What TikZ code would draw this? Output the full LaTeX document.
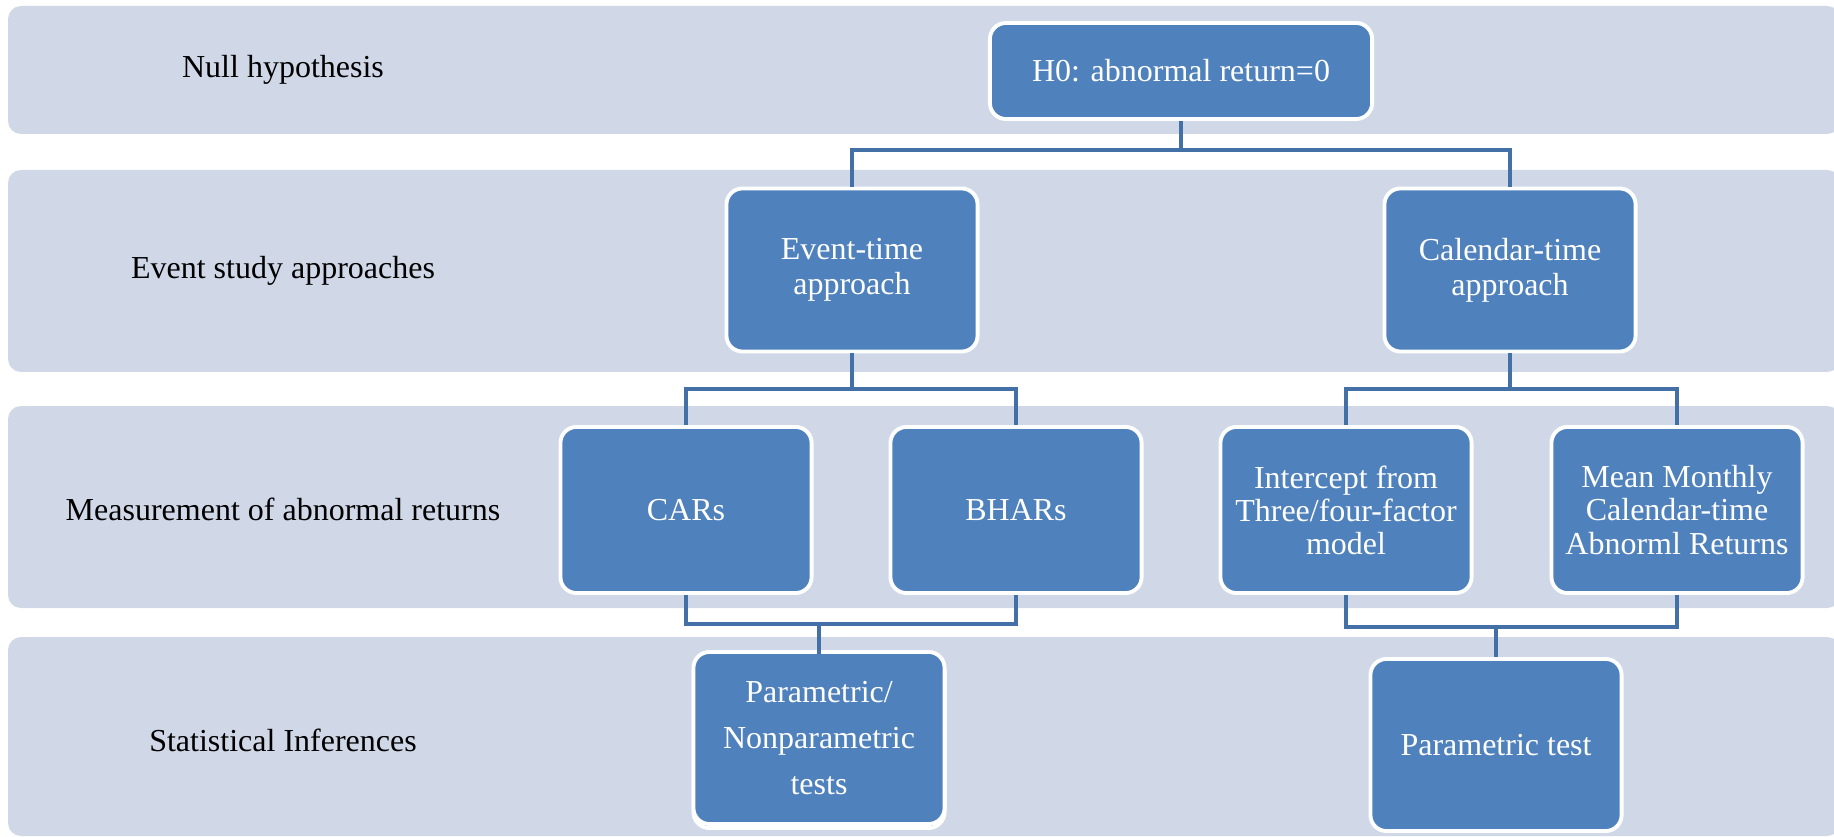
\documentclass[tikz,border=0pt]{standalone}
\usepackage{fontspec}
\setmainfont{Liberation Serif}
\definecolor{bandc}{HTML}{D0D8E8}
\definecolor{boxc}{HTML}{4F81BD}
\definecolor{connc}{HTML}{4470A8}
\begin{document}
\begin{tikzpicture}[x=0.01cm,y=-0.01cm,
  bandbox/.style={fill=bandc, rounded corners=0.13cm},
  blk/.style={draw=white, line width=1.1pt, fill=boxc, rounded corners=0.16cm,
    text=white, align=center, inner sep=0pt, minimum width=2.51cm, minimum height=1.63cm,
    font=\fontsize{9.1}{10}\selectfont},
  lbl/.style={font=\fontsize{9.1}{11}\selectfont, text=black, inner sep=0pt},
  connl/.style={draw=connc, line width=1.3pt}
]
\useasboundingbox (0,0) rectangle (1834,837);
% bands
\fill[bandbox] (8,6) rectangle (1840,134);
\fill[bandbox] (8,170) rectangle (1840,372);
\fill[bandbox] (8,406) rectangle (1840,608);
\fill[bandbox] (8,637) rectangle (1840,836);
% left labels
\node[lbl] (l1) at (283,70) {Null hypothesis};
\node[lbl] (l2) at (283,271) {Event study approaches};
\node[lbl] (l3) at (283,509) {Measurement of abnormal returns};
\node[lbl] (l4) at (283,740) {Statistical Inferences};
% boxes
\node[blk, minimum width=3.82cm, minimum height=0.96cm] (h0) at (1181,71) {H0: abnormal return=0};
\node[blk] (ev) at (852,270) {Event-time\\approach};
\node[blk] (cal) at (1510,270) {Calendar-time\\approach};
\node[blk, minimum height=1.66cm, font=\fontsize{9.1}{9.4}\selectfont] (car) at (686,510) {CARs};
\node[blk, minimum height=1.66cm, font=\fontsize{9.1}{9.4}\selectfont] (bhar) at (1016,510) {BHARs};
\node[blk, minimum height=1.66cm, font=\fontsize{9.1}{9.4}\selectfont] (icp) at (1346,510) {Intercept from\\Three/four-factor\\model};
\node[blk, minimum height=1.66cm, font=\fontsize{9.1}{9.4}\selectfont] (mmc) at (1677,510) {Mean Monthly\\Calendar-time\\Abnorml Returns};
\node[blk, minimum height=1.72cm] (pn2) at (819,742) {};
\node[blk, minimum height=1.72cm, font=\fontsize{9.1}{13.1}\selectfont] (pn) at (819,738) {Parametric/\\Nonparametric\\tests};
\node[blk, minimum height=1.72cm] (pt) at (1496,745) {Parametric test};
% junctions
\coordinate (j1) at (1181,150);
\coordinate (j2) at (852,389);
\coordinate (j3) at (1510,389);
\coordinate (j4) at (819,624);
\coordinate (j5) at (1496,627);
% connectors
\draw[connl] (h0.south) -- (j1);
\draw[connl] (ev.north) |- (j1) -| (cal.north);
\draw[connl] (ev.south) -- (j2);
\draw[connl] (car.north) |- (j2) -| (bhar.north);
\draw[connl] (cal.south) -- (j3);
\draw[connl] (icp.north) |- (j3) -| (mmc.north);
\draw[connl] (car.south) |- (j4) -| (bhar.south);
\draw[connl] (j4) -- (pn2.north);
\draw[connl] (icp.south) |- (j5) -| (mmc.south);
\draw[connl] (j5) -- (pt.north);
\end{tikzpicture}
\end{document}
